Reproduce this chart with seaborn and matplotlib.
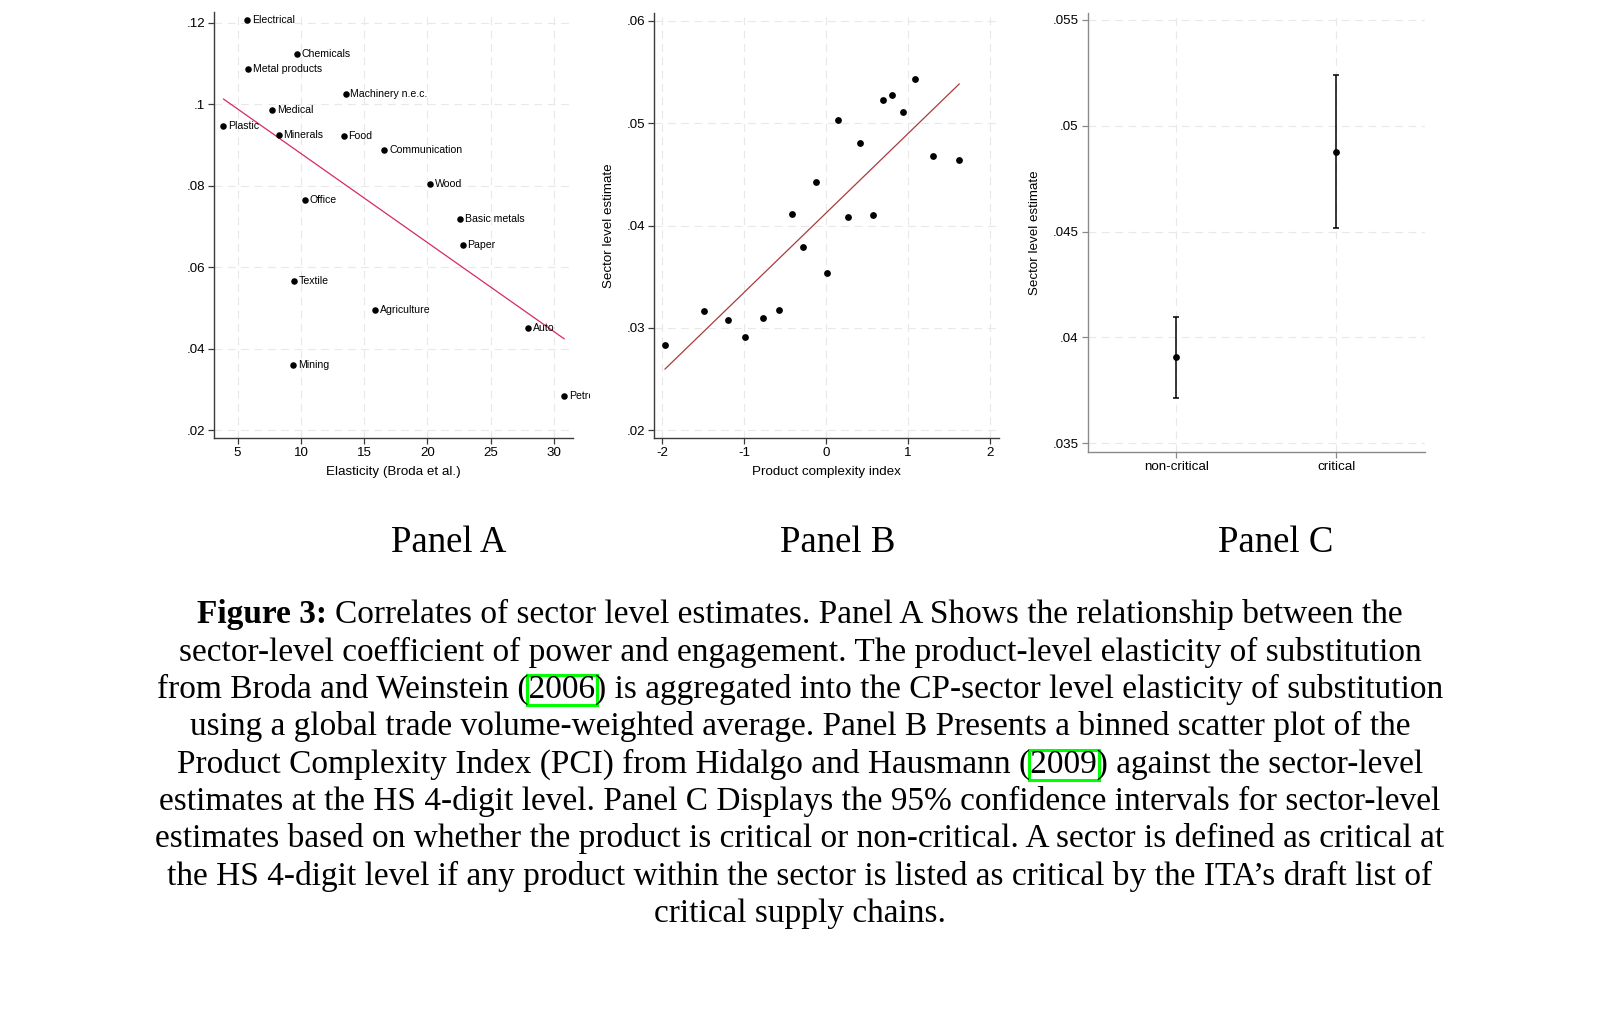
import matplotlib
matplotlib.use('Agg')
import matplotlib.pyplot as plt
import seaborn as sns
from matplotlib.ticker import FuncFormatter, MultipleLocator
from matplotlib.patches import Rectangle
from matplotlib.transforms import Bbox, TransformedBbox

# Panel A: sector estimates vs. Broda et al. elasticity
sectors = ['Electrical', 'Chemicals', 'Metal products', 'Machinery n.e.c.', 'Medical',
           'Plastic', 'Minerals', 'Food', 'Communication', 'Wood', 'Office',
           'Basic metals', 'Paper', 'Textile', 'Agriculture', 'Auto', 'Mining', 'Petroleum']
elasticity = [5.74, 9.66, 5.79, 13.53, 7.71, 3.87, 8.24, 13.37, 16.58, 20.18, 10.32,
              22.55, 22.79, 9.42, 15.89, 27.97, 9.37, 30.82]
sector_est = [0.1206, 0.1123, 0.1086, 0.1025, 0.0985, 0.0947, 0.0924, 0.0923, 0.0887,
              0.0805, 0.0766, 0.0719, 0.0655, 0.0567, 0.0494, 0.0451, 0.0360, 0.0285]

# Panel B: binned scatter vs. product complexity index
pci_bins = [-1.967, -1.484, -1.203, -0.988, -0.772, -0.577, -0.415, -0.280, -0.122, 0.016,
            0.150, 0.272, 0.419, 0.573, 0.699, 0.809, 0.939, 1.081, 1.301, 1.626]
pci_est = [0.0283, 0.0316, 0.0308, 0.0291, 0.0310, 0.0317, 0.0411, 0.0379, 0.0443, 0.0354,
           0.0503, 0.0408, 0.0481, 0.0410, 0.0523, 0.0528, 0.0511, 0.0543, 0.0468, 0.0464]

# Panel C: critical vs non-critical, 95% CI
crit_groups = ['non-critical', 'critical']
crit_est = [0.03907, 0.04877]
crit_lo = [0.03715, 0.04515]
crit_hi = [0.04098, 0.05241]

panel_labels = ['Panel A', 'Panel B', 'Panel C']
caption_bold = 'Figure 3:'
caption_lines = [
    'Correlates of sector level estimates. Panel A Shows the relationship between the',
    'sector-level coefficient of power and engagement. The product-level elasticity of substitution',
    'from Broda and Weinstein (2006) is aggregated into the CP-sector level elasticity of substitution',
    'using a global trade volume-weighted average. Panel B Presents a binned scatter plot of the',
    'Product Complexity Index (PCI) from Hidalgo and Hausmann (2009) against the sector-level',
    'estimates at the HS 4-digit level. Panel C Displays the 95% confidence intervals for sector-level',
    'estimates based on whether the product is critical or non-critical. A sector is defined as critical at',
    'the HS 4-digit level if any product within the sector is listed as critical by the ITA\u2019s draft list of',
    'critical supply chains.',
]

sns.set_style('white')
plt.rcParams['font.family'] = ['Liberation Sans', 'DejaVu Sans']
plt.rcParams['axes.unicode_minus'] = False
plt.rcParams['text.color'] = 'black'
plt.rcParams['axes.labelcolor'] = 'black'

W, H = 1598, 1034
fig = plt.figure(figsize=(W / 100, H / 100), dpi=100)


def px_axes(x0, y0, x1, y1):
    return fig.add_axes([x0 / W, 1 - y1 / H, (x1 - x0) / W, (y1 - y0) / H])


def stata_fmt(v, pos):
    s = f'{v:.3f}'.rstrip('0').rstrip('.')
    if s.startswith('0.'):
        s = s[1:]
    return s


def style_axes(ax, spine_color):
    sns.despine(ax=ax)
    for side in ['left', 'bottom']:
        ax.spines[side].set_color(spine_color)
        ax.spines[side].set_linewidth(1.0)
    ax.tick_params(axis='both', direction='out', length=4.5, width=0.9, color=spine_color,
                   labelsize=9.6, pad=2, labelcolor='black', left=True, bottom=True)
    ax.grid(True, color='#e8e8e8', linestyle=(0, (7, 5)), linewidth=0.8)
    ax.set_axisbelow(True)
    ax.yaxis.set_major_formatter(FuncFormatter(stata_fmt))


axA = px_axes(214, 11.7, 573.3, 438.3)
axB = px_axes(654, 12.7, 999, 438.3)
axC = px_axes(1087.7, 12.7, 1425, 451.7)

# Panel A
sns.scatterplot(x=elasticity, y=sector_est, ax=axA, color='black', s=22, linewidth=0, zorder=3)
sns.regplot(x=elasticity, y=sector_est, ax=axA, scatter=False, ci=None, truncate=True,
            line_kws={'color': '#d8286a', 'lw': 0.9})
clip = TransformedBbox(Bbox([[0, 0], [590 / W, 1]]), fig.transFigure)
for name, x, y in zip(sectors, elasticity, sector_est):
    t = axA.annotate(name, (x, y), xytext=(3.5, 0), textcoords='offset points',
                     va='center', ha='left', fontsize=7.6, annotation_clip=False)
    t.set_clip_on(True)
    t.set_clip_box(clip)
axA.set_xlim(3.13, 31.53)
axA.set_ylim(0.018, 0.1227)
axA.xaxis.set_major_locator(MultipleLocator(5))
axA.yaxis.set_major_locator(MultipleLocator(0.02))
style_axes(axA, '#3a3a3a')
axA.xaxis.set_major_formatter(FuncFormatter(lambda v, p: f'{v:g}'))
axA.set_xlabel('Elasticity (Broda et al.)', fontsize=9.6)

# Panel B
sns.regplot(x=pci_bins, y=pci_est, ax=axB, ci=None, color='black', truncate=True,
            scatter_kws={'s': 24, 'linewidths': 0, 'alpha': 1, 'zorder': 3},
            line_kws={'color': '#a83c3c', 'lw': 0.9})
axB.set_xlim(-2.10, 2.11)
axB.set_ylim(0.0192, 0.0608)
axB.xaxis.set_major_locator(MultipleLocator(1))
axB.yaxis.set_major_locator(MultipleLocator(0.01))
style_axes(axB, '#3a3a3a')
axB.xaxis.set_major_formatter(FuncFormatter(lambda v, p: f'{v:g}'))
axB.set_xlabel('Product complexity index', fontsize=9.6)
axB.set_ylabel('Sector level estimate', fontsize=9.6)
axB.yaxis.set_label_coords(-0.1296, 0.5)

# Panel C
sns.scatterplot(x=crit_groups, y=crit_est, ax=axC, color='black', s=24, linewidth=0, zorder=3)
err = [[e - lo for e, lo in zip(crit_est, crit_lo)], [hi - e for e, hi in zip(crit_est, crit_hi)]]
axC.errorbar(crit_groups, crit_est, yerr=err, fmt='none', ecolor='black',
             elinewidth=1.1, capsize=2.3, capthick=1.1)
axC.set_xlim(-0.554, 1.554)
axC.set_ylim(0.0346, 0.05534)
axC.yaxis.set_major_locator(MultipleLocator(0.005))
style_axes(axC, '#8a8a8a')
axC.set_ylabel('Sector level estimate', fontsize=9.6)
axC.yaxis.set_label_coords(-0.156, 0.5)

for ax in [axA, axB]:
    ax.xaxis.label.set_va('center')
    ax.xaxis.set_label_coords(0.5, -0.0785)
for ax in [axB, axC]:
    ax.yaxis.label.set_va('center')

# Caption
serif = 'Liberation Serif'
renderer = fig.canvas.get_renderer()


def text_px(s, size, weight='normal'):
    t = fig.text(0, 0, s, fontsize=size, family=serif, weight=weight)
    w = t.get_window_extent(renderer).width
    t.remove()
    return w


cap_size = 20 * 1290 / text_px(caption_lines[6], 20)
cx = 800
baselines = [623.5 + 37.3 * k for k in range(len(caption_lines))]

# panel labels
for label, x in zip(panel_labels, [449, 838, 1276]):
    fig.text(x / W, 1 - 552 / H, label, ha='center', va='baseline', fontsize=cap_size * 1.1,
             family=serif, color='black')

# first line with bold lead
wb = text_px(caption_bold, cap_size, 'bold')
wr = text_px(caption_lines[0], cap_size)
sp = 0.25 * cap_size * 100 / 72
x0 = cx - (wb + sp + wr) / 2
fig.text(x0 / W, 1 - baselines[0] / H, caption_bold, ha='left', va='baseline',
         fontsize=cap_size, family=serif, weight='bold', color='black')
fig.text((x0 + wb + sp) / W, 1 - baselines[0] / H, caption_lines[0], ha='left', va='baseline',
         fontsize=cap_size, family=serif, color='black')

for k in range(1, len(caption_lines)):
    fig.text(cx / W, 1 - baselines[k] / H, caption_lines[k], ha='center', va='baseline',
             fontsize=cap_size, family=serif, color='black')


def cite_box(k, year):
    line = caption_lines[k]
    left = cx - text_px(line, cap_size) / 2
    i = line.index(year)
    bx0 = left + text_px(line[:i], cap_size)
    bx1 = left + text_px(line[:i + len(year)], cap_size)
    base = baselines[k]
    rect = Rectangle(((bx0 - 1) / W, 1 - (base + 7) / H), (bx1 - bx0 + 3) / W, 30 / H,
                     transform=fig.transFigure, fill=False, edgecolor='#00ff00', lw=2.2)
    fig.add_artist(rect)


cite_box(2, '2006')
cite_box(4, '2009')

fig.savefig('out.png', dpi=100, facecolor='white')
